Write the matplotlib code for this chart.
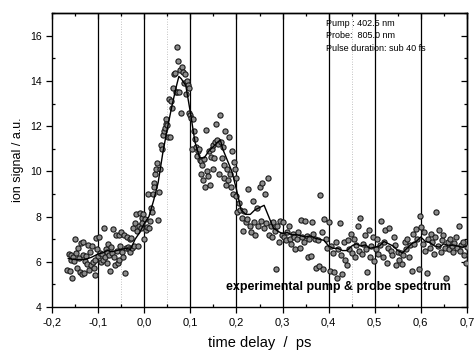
import numpy as np
import matplotlib.pyplot as plt
from matplotlib.ticker import MultipleLocator, FuncFormatter, NullFormatter

plt.rcParams['font.family'] = ['Liberation Sans', 'DejaVu Sans']

# measured points (delay in ps, ion signal)
x_a = [-0.167, -0.164, -0.162, -0.160, -0.158, -0.156, -0.154, -0.152, -0.150, -0.148, -0.146, -0.144,
       -0.142, -0.140, -0.138, -0.136, -0.134, -0.132, -0.130, -0.128, -0.126, -0.124, -0.122, -0.120,
       -0.118, -0.116, -0.114, -0.112, -0.110, -0.108, -0.106, -0.104, -0.102, -0.100]
y_a = [5.65, 6.35, 5.6, 6.1, 6.3, 5.3, 6.2, 6.05, 7.0, 6.4, 5.75, 6.6, 6.15, 5.55, 6.85, 5.45, 6.9, 6.3,
       5.5, 6.05, 6.25, 5.9, 6.75, 5.65, 6.45, 5.85, 6.7, 6.0, 5.75, 5.4, 6.1, 7.05, 6.55, 6.25]
x_b = [-0.098, -0.096, -0.094, -0.092, -0.090, -0.088, -0.086, -0.084, -0.082, -0.080, -0.078, -0.076,
       -0.074, -0.072, -0.070, -0.068, -0.066, -0.064, -0.062, -0.060, -0.058, -0.056, -0.054, -0.052,
       -0.050, -0.048, -0.046, -0.044, -0.042, -0.040, -0.038, -0.036, -0.034, -0.032, -0.030, -0.028,
       -0.026, -0.024, -0.022, -0.020, -0.018, -0.016, -0.014, -0.012, -0.010, -0.008, -0.006, -0.004,
       -0.002, 0.000]
y_b = [7.1, 6.4, 6.0, 6.35, 6.1, 7.5, 6.2, 6.55, 5.95, 6.45, 6.8, 6.3, 5.6, 6.65, 6.4, 7.45, 6.2, 5.85,
       7.2, 6.5, 5.95, 7.2, 6.1, 6.7, 7.3, 6.45, 6.2, 7.2, 5.5, 6.6, 7.1, 6.65, 6.55, 7.0, 6.45, 7.05,
       6.6, 7.5, 6.7, 7.7, 8.1, 7.35, 6.7, 7.6, 8.15, 7.5, 7.95, 7.7, 8.1, 7.0]
x_c = [0.002, 0.004, 0.006, 0.008, 0.010, 0.012, 0.014, 0.016, 0.018, 0.020, 0.022, 0.024, 0.026, 0.028,
       0.030, 0.032, 0.034, 0.036, 0.038, 0.040, 0.042, 0.044, 0.046, 0.048, 0.050, 0.052, 0.054, 0.056,
       0.058, 0.060]
y_c = [7.9, 7.4, 7.55, 9.0, 7.5, 7.8, 8.4, 8.2, 9.0, 9.5, 9.3, 9.9, 10.1, 10.35, 7.85, 9.1, 10.1, 11.15,
       11.0, 11.6, 11.8, 11.9, 12.3, 12.1, 12.05, 11.5, 13.2, 11.5, 13.1, 12.8]
x_d = [0.062, 0.064, 0.066, 0.068, 0.070, 0.072, 0.074, 0.076, 0.078, 0.080, 0.082, 0.084, 0.086, 0.088,
       0.090, 0.092, 0.094, 0.096, 0.098, 0.100, 0.102, 0.104, 0.106, 0.108, 0.110, 0.112, 0.114, 0.116,
       0.118, 0.120]
y_d = [13.7, 14.3, 14.35, 13.5, 13.5, 15.5, 14.9, 13.5, 14.5, 12.6, 14.6, 14.4, 13.9, 14.3, 13.4, 14.0,
       13.8, 13.7, 12.6, 12.5, 12.35, 11.0, 12.3, 11.8, 11.45, 11.1, 10.7, 10.9, 11.0, 10.5]
x_e = [0.122, 0.124, 0.126, 0.128, 0.130, 0.132, 0.134, 0.136, 0.138, 0.140, 0.142, 0.144, 0.146, 0.148,
       0.150, 0.152, 0.154, 0.156, 0.158, 0.160, 0.162, 0.164, 0.166, 0.168, 0.170, 0.172, 0.174, 0.176,
       0.178, 0.180, 0.182, 0.184, 0.186, 0.188, 0.190, 0.192, 0.194, 0.196, 0.198, 0.200]
y_e = [10.45, 9.9, 10.3, 9.6, 10.55, 9.3, 11.85, 10.0, 9.8, 10.9, 9.4, 10.65, 11.0, 10.1, 11.15, 10.6,
       11.3, 12.1, 11.4, 11.2, 9.9, 12.5, 11.3, 10.6, 11.1, 9.7, 10.3, 11.8, 9.4, 10.1, 9.6, 11.5, 9.9,
       9.3, 10.9, 9.0, 10.4, 10.1, 9.7, 8.9]
x_f = [0.202, 0.205, 0.208, 0.211, 0.214, 0.217, 0.220, 0.223, 0.226, 0.229, 0.232, 0.235, 0.238, 0.241,
       0.244, 0.247, 0.250, 0.253, 0.256, 0.259, 0.262, 0.265, 0.268, 0.271, 0.274, 0.277, 0.280, 0.283,
       0.286, 0.289, 0.292, 0.295, 0.298]
y_f = [8.2, 8.6, 8.3, 7.95, 7.35, 8.25, 7.75, 7.9, 9.2, 7.6, 7.3, 8.7, 7.75, 7.2, 8.4, 7.6, 9.3, 7.8, 9.5,
       7.5, 9.0, 7.7, 9.7, 7.2, 7.6, 7.1, 7.75, 7.35, 5.7, 7.6, 6.9, 7.8, 7.2]
x_g = [0.301, 0.304, 0.307, 0.310, 0.313, 0.316, 0.319, 0.322, 0.325, 0.328, 0.331, 0.334, 0.337, 0.340,
       0.343, 0.346, 0.349, 0.352, 0.355, 0.358, 0.361, 0.364, 0.367, 0.370, 0.373, 0.376, 0.379, 0.382,
       0.385, 0.388, 0.391, 0.394, 0.397, 0.400]
y_g = [7.75, 7.1, 6.95, 7.3, 7.6, 7.0, 6.8, 7.25, 7.1, 6.55, 7.0, 7.3, 6.6, 7.85, 7.1, 6.9, 7.8, 7.15,
       6.2, 7.0, 6.25, 7.75, 7.25, 7.0, 5.75, 6.95, 5.8, 8.95, 7.3, 5.7, 7.9, 7.0, 6.6, 7.75]
x_h = [0.403, 0.406, 0.409, 0.412, 0.415, 0.418, 0.421, 0.424, 0.427, 0.430, 0.433, 0.436, 0.439, 0.442,
       0.445, 0.448, 0.451, 0.454, 0.457, 0.460, 0.463, 0.466, 0.469, 0.472, 0.475, 0.478, 0.481, 0.484,
       0.487, 0.490, 0.493, 0.496, 0.499]
y_h = [5.6, 6.7, 6.4, 5.55, 6.9, 5.3, 6.55, 7.7, 6.3, 5.45, 6.9, 6.1, 5.85, 6.95, 6.55, 7.25, 6.4, 7.0,
       6.2, 6.75, 7.6, 6.5, 7.95, 6.35, 6.8, 7.2, 6.55, 5.55, 7.4, 6.2, 6.7, 7.1, 6.05]
x_i = [0.502, 0.505, 0.508, 0.511, 0.514, 0.517, 0.520, 0.523, 0.526, 0.529, 0.532, 0.535, 0.538, 0.541,
       0.544, 0.547, 0.550, 0.553, 0.556, 0.559, 0.562, 0.565, 0.568, 0.571, 0.574, 0.577, 0.580, 0.583,
       0.586, 0.589, 0.592, 0.595, 0.598]
y_i = [6.55, 7.0, 6.35, 6.75, 7.8, 6.2, 6.9, 7.4, 5.95, 6.6, 7.5, 6.5, 6.3, 7.1, 6.75, 5.85, 6.45, 6.1,
       6.4, 5.9, 6.3, 6.9, 6.55, 7.0, 6.2, 6.75, 5.6, 7.25, 6.8, 7.45, 7.0, 5.7, 8.05]
x_j = [0.601, 0.604, 0.607, 0.610, 0.613, 0.616, 0.619, 0.622, 0.625, 0.628, 0.631, 0.634, 0.637, 0.640,
       0.643, 0.646, 0.649, 0.652, 0.655, 0.658, 0.661, 0.664, 0.667, 0.670, 0.673, 0.676, 0.679, 0.682,
       0.685, 0.688, 0.691, 0.694, 0.697, 0.700]
y_j = [7.55, 6.8, 7.3, 6.5, 5.5, 7.0, 6.6, 7.25, 6.9, 6.35, 7.1, 8.2, 6.7, 7.4, 6.45, 6.95, 7.2, 6.6,
       5.3, 6.9, 6.55, 7.0, 6.7, 6.45, 6.85, 7.1, 6.6, 7.6, 6.5, 6.75, 6.9, 6.3, 5.95, 6.65]

# smoothed curve
line_x = [-0.165, -0.15, -0.13, -0.115, -0.10, -0.09, -0.08, -0.07, -0.06, -0.05, -0.04, -0.03, -0.02,
          -0.01, 0.0, 0.01, 0.02, 0.03, 0.04, 0.05, 0.06, 0.07, 0.075, 0.08, 0.09, 0.10, 0.11, 0.12,
          0.13, 0.14, 0.15, 0.16, 0.165, 0.17, 0.18, 0.19, 0.20, 0.21, 0.22, 0.23, 0.24, 0.25, 0.26,
          0.27, 0.28, 0.29, 0.30, 0.31, 0.32, 0.33, 0.34, 0.35, 0.36, 0.37, 0.38, 0.39, 0.40, 0.41,
          0.42, 0.43, 0.44, 0.45, 0.46, 0.47, 0.48, 0.49, 0.50, 0.51, 0.52, 0.53, 0.54, 0.55, 0.56,
          0.57, 0.58, 0.59, 0.60, 0.61, 0.62, 0.63, 0.64, 0.65, 0.66, 0.67, 0.68, 0.69, 0.70]
line_y = [6.15, 6.1, 6.1, 6.2, 6.35, 6.4, 6.5, 6.45, 6.5, 6.55, 6.6, 6.55, 7.0,
          7.3, 7.7, 8.0, 8.7, 9.5, 10.8, 11.9, 12.9, 13.8, 14.2, 14.1, 13.8, 12.6, 11.3, 10.6,
          10.6, 10.9, 11.1, 11.3, 11.4, 11.0, 10.5, 10.0, 9.2, 8.3, 8.1, 8.1, 8.3, 8.4, 8.5,
          8.0, 7.5, 7.35, 7.25, 7.3, 7.2, 7.2, 7.15, 7.1, 7.15, 7.05, 7.0, 6.95, 6.7, 6.6,
          6.6, 6.5, 6.5, 6.7, 6.8, 6.7, 6.75, 6.6, 6.65, 6.7, 6.9, 6.8, 6.7, 6.5, 6.4,
          6.6, 6.8, 6.9, 7.1, 6.9, 6.85, 6.7, 6.65, 6.8, 6.7, 6.75, 6.7, 6.65, 6.7]

grid_x = [-0.1, 0.0, 0.1, 0.2, 0.3, 0.4, 0.5, 0.6]
info_lines = ["Pump : 402.5 nm", "Probe:  805.0 nm", "Pulse duration: sub 40 fs"]

xs = x_a + x_b + x_c + x_d + x_e + x_f + x_g + x_h + x_i + x_j
ys = y_a + y_b + y_c + y_d + y_e + y_f + y_g + y_h + y_i + y_j

fig = plt.figure(figsize=(4.74, 3.53), dpi=100)
ax = fig.add_axes([0.11, 0.13, 0.875, 0.833])

for gx in grid_x:
    ax.axvline(gx, color='black', lw=0.9, zorder=1)
for gx in [-0.05, 0.05, 0.45]:
    ax.axvline(gx, color='#b0b0b0', lw=0.6, ls=(0, (1, 2)), zorder=0)

ax.scatter(xs, ys, s=14, facecolor='#8c8c8c', edgecolor='#1a1a1a', linewidths=0.8, zorder=3)
ax.plot(line_x, line_y, color='black', lw=1.0, zorder=4)

ax.set_xlim(-0.2, 0.7)
ax.set_ylim(4, 17)
fmt_x = FuncFormatter(lambda v, p: f"{v:.1f}".replace('.', ',').replace('-0,0', '0,0'))
for axis, major, minor in [(ax.xaxis, 0.1, 0.05), (ax.yaxis, 2, 1)]:
    axis.set_major_locator(MultipleLocator(major))
    axis.set_minor_locator(MultipleLocator(minor))
ax.xaxis.set_major_formatter(fmt_x)
ax.yaxis.set_major_formatter(FuncFormatter(lambda v, p: f"{v:.0f}"))
ax.tick_params(which='major', direction='out', length=4, width=0.9)
ax.tick_params(which='minor', direction='in', length=2.5, width=0.9)
ax.tick_params(axis='x', labelsize=8)
ax.tick_params(axis='y', labelsize=7.5)

# inward ticks on top and right
top = ax.secondary_xaxis('top')
top.xaxis.set_major_locator(MultipleLocator(0.1))
top.xaxis.set_minor_locator(MultipleLocator(0.05))
top.xaxis.set_major_formatter(NullFormatter())
top.tick_params(which='both', direction='in', width=0.9)
top.tick_params(which='major', length=4)
top.tick_params(which='minor', length=2.5)
right = ax.secondary_yaxis('right')
right.yaxis.set_major_locator(MultipleLocator(2))
right.yaxis.set_minor_locator(MultipleLocator(1))
right.yaxis.set_major_formatter(NullFormatter())
right.tick_params(which='both', direction='in', width=0.9)
right.tick_params(which='major', length=4)
right.tick_params(which='minor', length=2.5)
for s in list(ax.spines.values()) + [top.spines['top'], right.spines['right']]:
    s.set_linewidth(1.0)

ax.set_xlabel("time delay  /  ps", fontsize=10.5, labelpad=6)
ax.set_ylabel("ion signal / a.u.", fontsize=9, labelpad=4)

for k, t in enumerate(info_lines):
    ax.text(0.395, 16.55 - k * 0.55, t, fontsize=6.5, va='center', ha='left')
ax.text(0.665, 4.88, "experimental pump & probe spectrum", fontsize=9, fontweight='bold',
        ha='right', va='center')

fig.savefig("out.png", dpi=100)
